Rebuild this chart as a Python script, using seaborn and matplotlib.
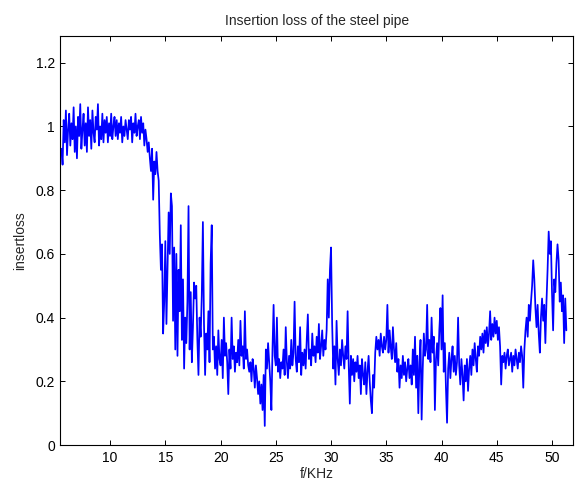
import numpy as np
import pandas as pd
import matplotlib
matplotlib.use("Agg")
import matplotlib.pyplot as plt
from matplotlib.ticker import FuncFormatter
import seaborn as sns

# ---- data ----
freq_start = 5.6   # kHz
freq_step = 0.1    # kHz
insertloss = [
    # 5.6 - 6.5
    0.93, 0.88, 1.02, 0.95, 1.05, 0.91, 0.99, 1.04, 0.94, 1.01,
    # 6.6 - 7.5
    0.96, 1.06, 0.92, 1.00, 0.90, 1.03, 0.97, 1.07, 0.93, 0.99,
    # 7.6 - 8.5
    1.04, 0.94, 1.01, 0.92, 1.06, 0.97, 1.02, 0.93, 1.05, 0.98,
    # 8.6 - 9.5
    0.95, 1.03, 0.99, 1.07, 0.94, 1.00, 0.96, 1.04, 0.95, 1.02,
    # 9.6 - 10.5
    0.98, 1.03, 0.95, 1.01, 0.97, 1.04, 0.96, 1.00, 1.03, 0.97,
    # 10.6 - 11.5
    1.02, 0.96, 1.01, 0.98, 1.03, 0.95, 1.00, 0.97, 1.02, 0.99,
    # 11.6 - 12.5
    0.96, 1.02, 0.99, 1.03, 0.95, 1.01, 0.98, 1.04, 0.97, 1.00,
    # 12.6 - 13.5
    1.02, 0.96, 1.03, 0.98, 1.01, 0.94, 0.99, 0.96, 0.92, 0.95,
    # 13.6 - 14.5
    0.90, 0.86, 0.93, 0.77, 0.89, 0.85, 0.92, 0.86, 0.83, 0.66,
    # 14.6 - 15.5
    0.55, 0.63, 0.35, 0.45, 0.64, 0.38, 0.55, 0.73, 0.60, 0.79,
    # 15.6 - 16.5
    0.75, 0.39, 0.62, 0.30, 0.60, 0.28, 0.55, 0.42, 0.69, 0.33,
    # 16.6 - 17.5
    0.52, 0.24, 0.40, 0.32, 0.45, 0.75, 0.30, 0.48, 0.26, 0.37,
    # 17.6 - 18.5
    0.51, 0.46, 0.50, 0.33, 0.22, 0.40, 0.34, 0.47, 0.70, 0.38,
    # 18.6 - 19.5
    0.22, 0.35, 0.30, 0.42, 0.26, 0.57, 0.69, 0.30, 0.34, 0.24,
    # 19.6 - 20.5
    0.31, 0.22, 0.36, 0.27, 0.25, 0.33, 0.21, 0.40, 0.28, 0.32,
    # 20.6 - 21.5
    0.26, 0.16, 0.30, 0.24, 0.40, 0.27, 0.31, 0.23, 0.29, 0.26,
    # 21.6 - 22.5
    0.33, 0.25, 0.39, 0.28, 0.31, 0.24, 0.42, 0.27, 0.30, 0.25,
    # 22.6 - 23.5
    0.23, 0.26, 0.20, 0.27, 0.24, 0.18, 0.25, 0.21, 0.16, 0.20,
    # 23.6 - 24.5
    0.13, 0.19, 0.11, 0.22, 0.06, 0.30, 0.24, 0.32, 0.26, 0.20,
    # 24.6 - 25.5
    0.11, 0.30, 0.44, 0.28, 0.25, 0.40, 0.23, 0.27, 0.21, 0.26,
    # 25.6 - 26.5
    0.24, 0.30, 0.22, 0.37, 0.26, 0.21, 0.28, 0.24, 0.33, 0.25,
    # 26.6 - 27.5
    0.29, 0.45, 0.27, 0.23, 0.31, 0.26, 0.37, 0.22, 0.29, 0.25,
    # 27.6 - 28.5
    0.30, 0.24, 0.33, 0.41, 0.27, 0.30, 0.25, 0.35, 0.28, 0.31,
    # 28.6 - 29.5
    0.26, 0.34, 0.29, 0.38, 0.27, 0.31, 0.36, 0.28, 0.33, 0.30,
    # 29.6 - 30.5
    0.36, 0.52, 0.40, 0.55, 0.62, 0.38, 0.24, 0.31, 0.19, 0.39,
    # 30.6 - 31.5
    0.27, 0.22, 0.30, 0.25, 0.33, 0.28, 0.24, 0.31, 0.27, 0.42,
    # 31.6 - 32.5
    0.25, 0.13, 0.28, 0.22, 0.27, 0.20, 0.26, 0.23, 0.28, 0.21,
    # 32.6 - 33.5
    0.25, 0.16, 0.27, 0.22, 0.19, 0.26, 0.16, 0.23, 0.28, 0.20,
    # 33.6 - 34.5
    0.14, 0.10, 0.22, 0.18, 0.29, 0.34, 0.30, 0.33, 0.28, 0.35,
    # 34.6 - 35.5
    0.31, 0.29, 0.34, 0.30, 0.33, 0.44, 0.29, 0.36, 0.31, 0.27,
    # 35.6 - 36.5
    0.37, 0.30, 0.26, 0.32, 0.23, 0.27, 0.18, 0.25, 0.21, 0.28,
    # 36.6 - 37.5
    0.22, 0.26, 0.20, 0.24, 0.27, 0.21, 0.25, 0.19, 0.30, 0.22,
    # 37.6 - 38.5
    0.34, 0.18, 0.28, 0.10, 0.26, 0.33, 0.08, 0.24, 0.35, 0.28,
    # 38.6 - 39.5
    0.30, 0.44, 0.27, 0.33, 0.26, 0.40, 0.29, 0.34, 0.11, 0.27,
    # 39.6 - 40.5
    0.32, 0.25, 0.36, 0.43, 0.30, 0.47, 0.23, 0.32, 0.18, 0.07,
    # 40.6 - 41.5
    0.24, 0.29, 0.21, 0.27, 0.31, 0.23, 0.28, 0.22, 0.26, 0.40,
    # 41.6 - 42.5
    0.25, 0.19, 0.27, 0.22, 0.14, 0.25, 0.20, 0.27, 0.17, 0.24,
    # 42.6 - 43.5
    0.28, 0.22, 0.30, 0.25, 0.32, 0.27, 0.23, 0.31, 0.28, 0.34,
    # 43.6 - 44.5
    0.30, 0.35, 0.29, 0.36, 0.32, 0.37, 0.31, 0.35, 0.42, 0.33,
    # 44.6 - 45.5
    0.38, 0.34, 0.40, 0.35, 0.39, 0.33, 0.37, 0.31, 0.19, 0.28,
    # 45.6 - 46.5
    0.26, 0.29, 0.24, 0.28, 0.30, 0.25, 0.27, 0.29, 0.23, 0.28,
    # 46.6 - 47.5
    0.25, 0.30, 0.27, 0.24, 0.29, 0.26, 0.31, 0.28, 0.18, 0.30,
    # 47.6 - 48.5
    0.36, 0.40, 0.34, 0.44, 0.39, 0.45, 0.50, 0.58, 0.52, 0.43,
    # 48.6 - 49.5
    0.37, 0.44, 0.35, 0.29, 0.40, 0.46, 0.39, 0.44, 0.32, 0.45,
    # 49.6 - 50.5
    0.55, 0.67, 0.60, 0.64, 0.48, 0.36, 0.52, 0.48, 0.57, 0.63,
    # 50.6 - 51.3
    0.58, 0.45, 0.51, 0.42, 0.47, 0.32, 0.46, 0.36,
]
freq = np.round(freq_start + freq_step * np.arange(len(insertloss)), 2)

title_text = "Insertion loss of the steel pipe"
x_label = "f/KHz"
y_label = "insertloss"
x_ticks = [10, 15, 20, 25, 30, 35, 40, 45, 50]
y_ticks = [0, 0.2, 0.4, 0.6, 0.8, 1.0, 1.2]

df = pd.DataFrame({"f": freq, "insertloss": insertloss})

# ---- style ----
sns.set_style("ticks")
plt.rcParams["font.family"] = ["Liberation Sans", "DejaVu Sans"]
plt.rcParams["font.size"] = 10

fig = plt.figure(figsize=(5.75, 4.88), dpi=100)
ax = fig.add_axes([0.105, 0.088, 0.8915, 0.839])

sns.lineplot(data=df, x="f", y="insertloss", ax=ax, color="#0000FF",
             linewidth=1.25, estimator=None)

ax.set_xlim(5.5, 51.9)
ax.set_ylim(0, 1.285)
ax.set_xticks(x_ticks)
ax.set_yticks(y_ticks)
ax.yaxis.set_major_formatter(FuncFormatter(lambda v, p: f"{v:g}"))

for s in ax.spines.values():
    s.set_visible(True)
    s.set_linewidth(0.8)
    s.set_color("black")
ax.tick_params(direction="in", length=3.5, width=0.7, top=True, right=True,
               labelsize=10, colors="black", pad=4)

ax.set_title(title_text, fontsize=10, pad=8)
ax.set_xlabel(x_label, fontsize=10, labelpad=2)
ax.set_ylabel(y_label, fontsize=10, labelpad=6)

fig.savefig("out.png", dpi=100)
